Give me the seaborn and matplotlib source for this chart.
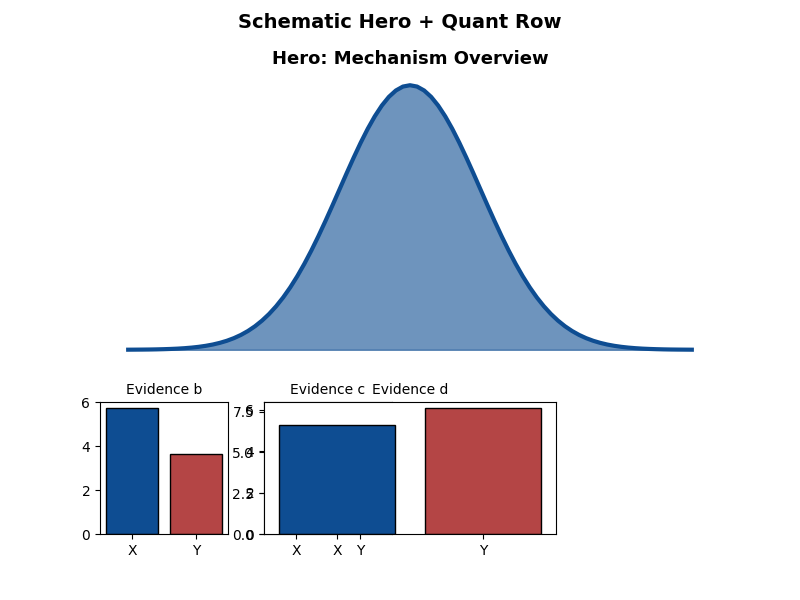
import pandas as pd
import matplotlib
matplotlib.use("Agg")
import matplotlib.pyplot as plt
import seaborn as sns

# hero curve (relative height), x from -4 to 4
hero_x = [-4.0, -3.9, -3.8, -3.7, -3.6, -3.5, -3.4, -3.3, -3.2, -3.1,
          -3.0, -2.9, -2.8, -2.7, -2.6, -2.5, -2.4, -2.3, -2.2, -2.1,
          -2.0, -1.9, -1.8, -1.7, -1.6, -1.5, -1.4, -1.3, -1.2, -1.1,
          -1.0, -0.9, -0.8, -0.7, -0.6, -0.5, -0.4, -0.3, -0.2, -0.1,
          0.0,
          0.1, 0.2, 0.3, 0.4, 0.5, 0.6, 0.7, 0.8, 0.9, 1.0,
          1.1, 1.2, 1.3, 1.4, 1.5, 1.6, 1.7, 1.8, 1.9, 2.0,
          2.1, 2.2, 2.3, 2.4, 2.5, 2.6, 2.7, 2.8, 2.9, 3.0,
          3.1, 3.2, 3.3, 3.4, 3.5, 3.6, 3.7, 3.8, 3.9, 4.0]
hero_y = [0.0003, 0.0005, 0.0007, 0.0010, 0.0015, 0.0022, 0.0031, 0.0043, 0.0060, 0.0082,
          0.0111, 0.0149, 0.0198, 0.0261, 0.0340, 0.0439, 0.0561, 0.0710, 0.0889, 0.1103,
          0.1353, 0.1645, 0.1979, 0.2357, 0.2780, 0.3247, 0.3753, 0.4296, 0.4868, 0.5461,
          0.6065, 0.6670, 0.7261, 0.7827, 0.8353, 0.8825, 0.9231, 0.9560, 0.9802, 0.9950,
          1.0000,
          0.9950, 0.9802, 0.9560, 0.9231, 0.8825, 0.8353, 0.7827, 0.7261, 0.6670, 0.6065,
          0.5461, 0.4868, 0.4296, 0.3753, 0.3247, 0.2780, 0.2357, 0.1979, 0.1645, 0.1353,
          0.1103, 0.0889, 0.0710, 0.0561, 0.0439, 0.0340, 0.0261, 0.0198, 0.0149, 0.0111,
          0.0082, 0.0060, 0.0043, 0.0031, 0.0022, 0.0015, 0.0010, 0.0007, 0.0005, 0.0003]

# quant row
categories = ["X", "Y"]
evidence_b = [5.73, 3.64]
evidence_c = [7.7, 4.9]
evidence_d = [5.24, 6.06]

blue = "#0e4d92"
red = "#b44545"
palette = {"X": blue, "Y": red}

fig = plt.figure(figsize=(8, 6), dpi=100)
fig.suptitle("Schematic Hero + Quant Row", fontsize=14, fontweight="bold")

# Hero panel
ax_hero = fig.add_axes([0.125, 0.395, 0.775, 0.485])
sns.lineplot(x=hero_x, y=hero_y, color=blue, linewidth=3, ax=ax_hero)
ax_hero.fill_between(hero_x, hero_y, color=blue, alpha=0.6)
ax_hero.set_axis_off()
ax_hero.set_title("Hero: Mechanism Overview", fontsize=13, fontweight="bold")

# Evidence panels (c and d overlap, d on top)
panels = [
    ("Evidence b", evidence_b, [0.125, 0.11, 0.16, 0.22]),
    ("Evidence c", evidence_c, [0.33, 0.11, 0.16, 0.22]),
    ("Evidence d", evidence_d, [0.33, 0.11, 0.365, 0.22]),
]
for title, vals, rect in panels:
    ax = fig.add_axes(rect)
    df = pd.DataFrame({"cat": categories, "val": vals})
    sns.barplot(data=df, x="cat", y="val", hue="cat", palette=palette,
                edgecolor="black", linewidth=1, saturation=1, legend=False, ax=ax)
    ax.set_title(title, fontsize=10)
    ax.set_xlabel("")
    ax.set_ylabel("")

fig.savefig("out.png", dpi=100)
